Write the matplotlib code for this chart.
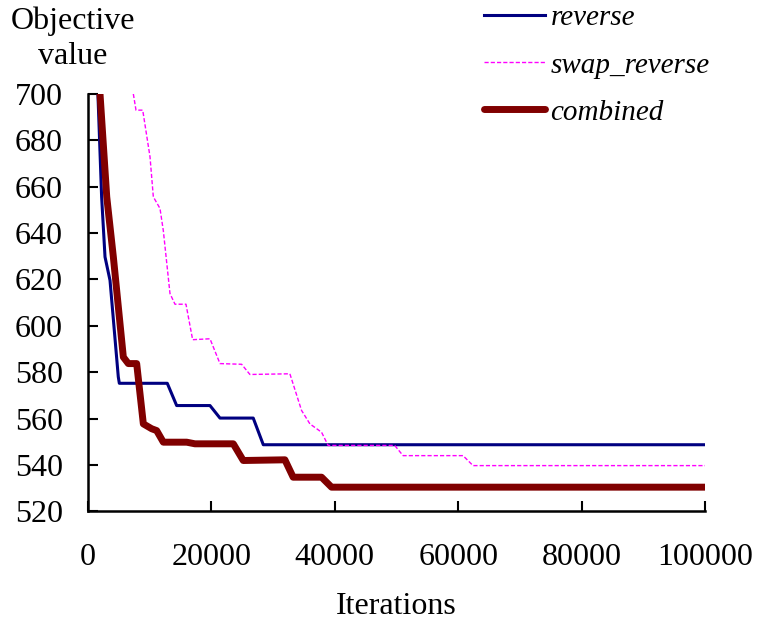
import matplotlib
matplotlib.use('Agg')
import matplotlib.pyplot as plt

plt.rcParams['font.family'] = ['Liberation Serif', 'DejaVu Serif']

# values
reverse_x = [1600, 2200, 2750, 3560, 4900, 5070, 5600, 12840, 14360, 19760,
             21380, 26770, 28400, 100000]
reverse_y = [700, 655.6, 629.7, 619.6, 578, 575.2, 575.2, 575.2, 565.6, 565.6,
             560.2, 560.2, 548.7, 548.7]

swap_x = [7340, 7770, 8860, 10040, 10580, 11660, 12200, 13280, 14090, 15870,
          16950, 19760, 21380, 24890, 26230, 32710, 34600, 35950, 37840, 38910,
          49700, 51050, 60770, 62390, 100000]
swap_y = [700, 693, 693, 672.9, 655.6, 650.6, 641, 613.9, 609.3, 609.3,
          594, 594.4, 583.7, 583.4, 579, 579.3, 563.5, 557.7, 554.1, 548.4,
          548.4, 544, 544, 539.7, 539.7]

combined_x = [1940, 3030, 4100, 5720, 6530, 7880, 8960, 10310, 11120, 12200,
              15980, 17330, 23540, 25150, 31900, 33240, 37840, 39460, 100000]
combined_y = [700, 655.6, 629.7, 586.5, 583.7, 583.7, 557.7, 555.6, 554.8, 549.8,
              549.8, 549.1, 549.1, 541.9, 542.2, 534.7, 534.7, 530.4, 530.4]

x_ticks = [0, 20000, 40000, 60000, 80000, 100000]
y_ticks = [520, 540, 560, 580, 600, 620, 640, 660, 680, 700]

fs = 23

fig = plt.figure(figsize=(7.59, 6.22), dpi=100)
ax = fig.add_axes([0.116, 0.178, 0.813, 0.671])

ax.plot(reverse_x, reverse_y, color='#000080', lw=2.2, label='reverse',
        solid_joinstyle='round')
ax.plot(swap_x, swap_y, color='#FF00FF', lw=1.0, ls=(0, (3, 1.5)),
        label='swap_reverse')
ax.plot(combined_x, combined_y, color='#800000', lw=5, label='combined',
        solid_joinstyle='round', solid_capstyle='round')

ax.set_xlim(0, 100000)
ax.set_ylim(520, 700)
ax.set_xticks(x_ticks)
ax.set_yticks(y_ticks)
ax.tick_params(direction='in', length=7, width=1.5, labelsize=fs)
ax.tick_params(axis='y', pad=18)
ax.tick_params(axis='x', pad=23)
for side in ['top', 'right']:
    ax.spines[side].set_visible(False)
for side in ['left', 'bottom']:
    ax.spines[side].set_linewidth(1.8)

ax.set_xlabel('Iterations', fontsize=fs, labelpad=14)
fig.text(0.096, 0.99, 'Objective\nvalue', ha='center', va='top', fontsize=fs,
         multialignment='center', linespacing=1.3)

leg = fig.legend(loc='upper left', bbox_to_anchor=(0.638, 0.992), frameon=False,
                 prop={'style': 'italic', 'size': 21}, handlelength=2.1,
                 labelspacing=0.71, handletextpad=0.17, borderpad=0,
                 borderaxespad=0)

fig.savefig('out.png', dpi=100)
